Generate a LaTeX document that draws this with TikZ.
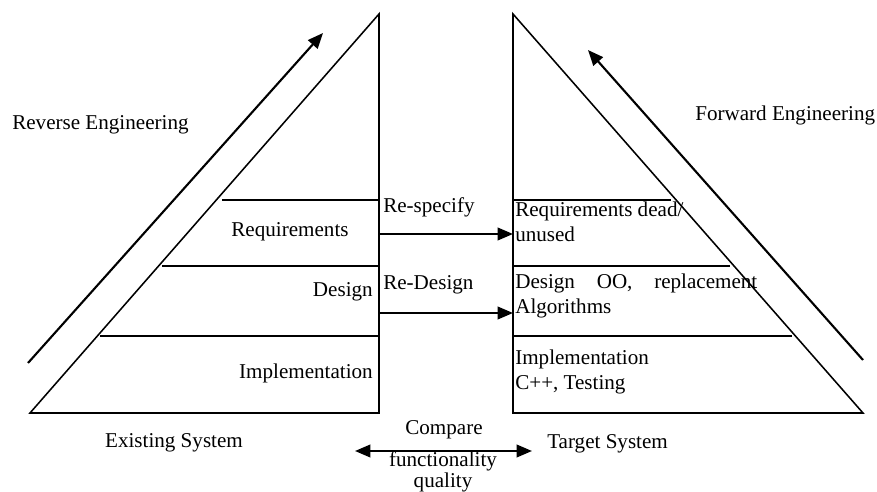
\documentclass[tikz,border=0pt]{standalone}
\usepackage{fontspec}
\setmainfont{Liberation Serif}
\usetikzlibrary{arrows.meta}

\begin{document}
\begin{tikzpicture}[
    x=0.025cm, y=-0.025cm,
    side/.style={line width=1.1pt},
    layer line/.style={line width=1.1pt},
    flow arrow/.style={-{Triangle[length=11pt, width=9pt]}, line width=1.5pt},
    compare arrow/.style={{Triangle[length=11pt, width=9pt]}-{Triangle[length=11pt, width=9pt]}, line width=1.5pt},
    txt/.style={font=\fontsize{15}{18}\selectfont, inner sep=0pt}
]

\useasboundingbox (0,0) rectangle (877,492);

% Existing system (left triangle)
\coordinate (LT) at (379,14);
\coordinate (LL) at (30,413);
\coordinate (LR) at (379,413);
\draw[side] (LT) -- (LL) -- (LR) -- cycle;
\draw[layer line] (222,200) -- (379,200);
\draw[layer line] (162,266) -- (379,266);
\draw[layer line] (100,336) -- (379,336);

% Target system (right triangle)
\coordinate (RT) at (513,14);
\coordinate (RL) at (513,413);
\coordinate (RR) at (863,413);
\draw[side] (RT) -- (RL) -- (RR) -- cycle;
\draw[layer line] (513,200) -- (671,200);
\draw[layer line] (513,266) -- (730,266);
\draw[layer line] (513,336) -- (792,336);

% Engineering arrows
\coordinate (rev start) at (28,363);
\coordinate (rev end) at (323,33);
\coordinate (fwd start) at (863,360);
\coordinate (fwd end) at (588,50);
\draw[flow arrow] (rev start) -- (rev end);
\draw[flow arrow] (fwd start) -- (fwd end);

\node[txt, anchor=base west] (reverse) at (12,129.5) {Reverse Engineering};
\node[txt, anchor=base west] (forward) at (695,120.5) {Forward Engineering};

% Left layers
\node[txt, anchor=base] (req) at (290,236.5) {Requirements};
\node[txt, anchor=base east] (des) at (373,296.5) {Design};
\node[txt, anchor=base east] (impl) at (373,378) {Implementation};
\node[txt, anchor=base] (existing) at (174,447.5) {Existing System};

% Right layers
\node[txt, anchor=base west] (req dead) at (515,217) {Requirements dead/};
\node[txt, anchor=base west] (req unused) at (515,242) {unused};
\node[txt, anchor=base west] (des oo) at (515,289) {\makebox[6.05cm][s]{Design OO, replacement}};
\node[txt, anchor=base west] (des algo) at (515,314) {Algorithms};
\node[txt, anchor=base west] (impl cpp) at (515,364) {Implementation};
\node[txt, anchor=base west] (impl test) at (515,390) {C++, Testing};
\node[txt, anchor=base west] (target) at (547,449) {Target System};

% Mapping between the systems
\coordinate (spec from) at (379,234);
\coordinate (spec to) at (513,234);
\coordinate (redes from) at (379,313);
\coordinate (redes to) at (513,313);
\draw[flow arrow] (spec from) -- (spec to);
\draw[flow arrow] (redes from) -- (redes to);
\node[txt, anchor=base west] (respec) at (383,213) {Re-specify};
\node[txt, anchor=base west] (redes) at (383,290) {Re-Design};

% Compare
\coordinate (cmp left) at (355,451);
\coordinate (cmp right) at (532,451);
\draw[compare arrow] (cmp left) -- (cmp right);
\node[txt, anchor=base] (compare) at (444,435) {Compare};
\node[txt, anchor=base] (func) at (443,466) {functionality};
\node[txt, anchor=base] (qual) at (443,487) {quality};

\end{tikzpicture}
\end{document}
